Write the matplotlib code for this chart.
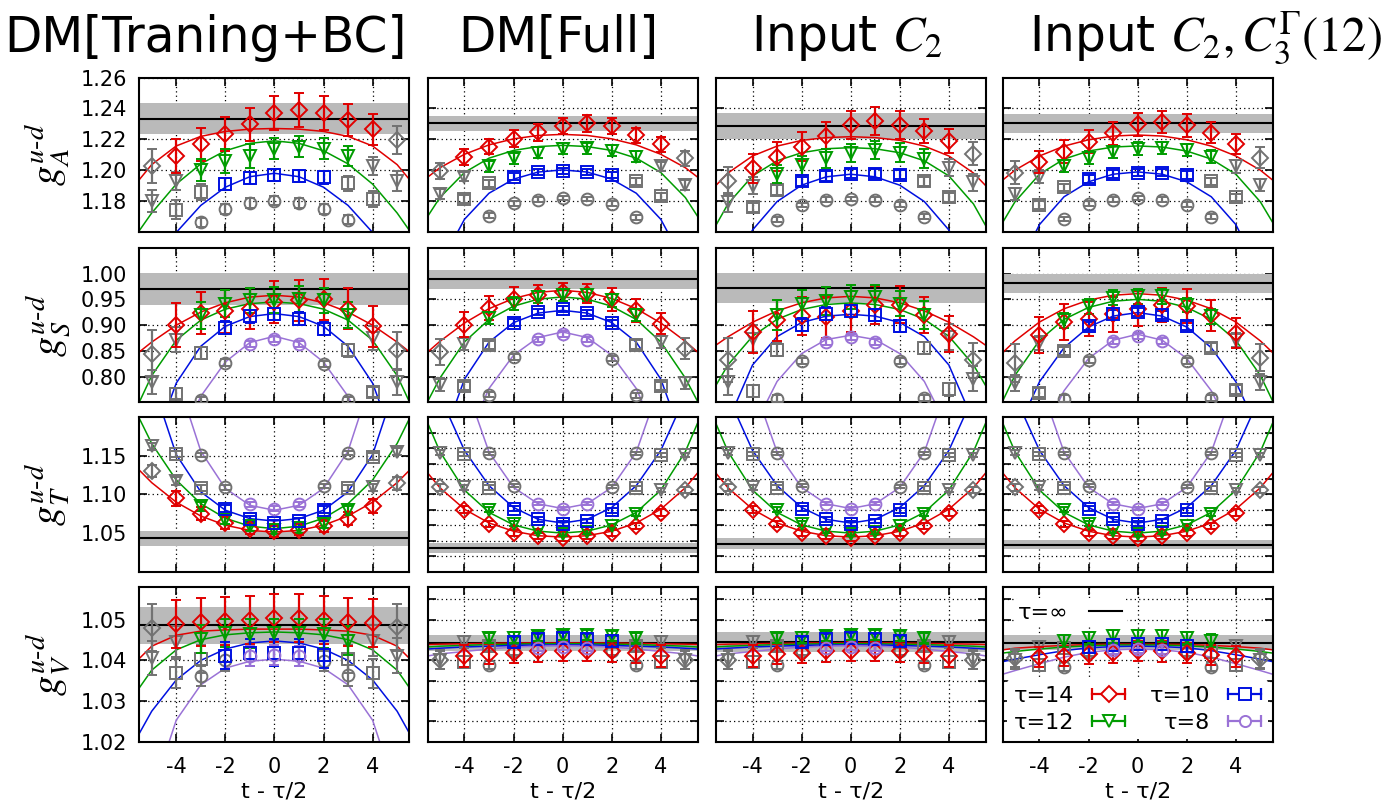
import numpy as np
import matplotlib
matplotlib.use('Agg')
import matplotlib.pyplot as plt
from matplotlib.lines import Line2D
from matplotlib.legend_handler import HandlerBase

plt.rcParams['font.family'] = 'DejaVu Sans'
plt.rcParams['mathtext.fontset'] = 'stix'
plt.rcParams['axes.unicode_minus'] = False

col_titles = ['DM[Traning+BC]', 'DM[Full]', r'Input $C_2$', r'Input $C_2, C_3^{\Gamma}(12)$']
row_labels = [r'$g_A^{u\text{-}d}$', r'$g_S^{u\text{-}d}$', r'$g_T^{u\text{-}d}$', r'$g_V^{u\text{-}d}$']

tau_list = [14, 12, 10, 8]
x_pts = {14: list(range(-5, 6)), 12: list(range(-5, 6)),
         10: list(range(-4, 5)), 8: list(range(-3, 4))}
fit_window = {14: 4, 12: 3, 10: 2, 8: 1}
curve_x_half = [0, 1, 2, 3, 4, 5, 5.5]

# ---------------- g_A ----------------
gA_bc = {14: [1.2024, 1.2092, 1.2168, 1.2232, 1.2297, 1.2368, 1.2389, 1.2368, 1.2325, 1.2265, 1.2194],
         12: [1.1802, 1.1931, 1.2002, 1.2060, 1.2092, 1.2140, 1.2153, 1.2140, 1.2092, 1.2028, 1.1931],
         10: [1.1744, 1.1860, 1.1910, 1.1948, 1.1968, 1.1961, 1.1953, 1.1914, 1.1813],
         8: [1.1662, 1.1748, 1.1787, 1.1802, 1.1787, 1.1748, 1.1679]}
gA_bc_err = {14: [0.011, 0.0108, 0.0108, 0.011, 0.0108, 0.011, 0.011, 0.011, 0.0103, 0.010, 0.009],
             12: [0.007, 0.006, 0.007, 0.008, 0.008, 0.007, 0.007, 0.007, 0.0067, 0.006, 0.0065],
             10: [0.006, 0.005, 0.0037, 0.004, 0.004, 0.004, 0.004, 0.005, 0.005],
             8: [0.003, 0.003, 0.003, 0.003, 0.003, 0.003, 0.003]}
gA_bc_fit = {14: [1.2270, 1.2266, 1.2251, 1.2219, 1.2157, 1.2036, 1.1940],
             12: [1.2190, 1.2174, 1.2126, 1.2041, 1.1910, 1.1723, 1.1610],
             10: [1.1980, 1.1958, 1.1890, 1.1772, 1.1597, 1.1354, 1.1204]}
gA_bc_band = (1.2333, 0.0099)

gA_full = {14: [1.1995, 1.2086, 1.2153, 1.2204, 1.2247, 1.2286, 1.2303, 1.2286, 1.2226, 1.2168, 1.2077],
           12: [1.1845, 1.1959, 1.2024, 1.2077, 1.2114, 1.2140, 1.2142, 1.2125, 1.2088, 1.2024, 1.1905],
           10: [1.1813, 1.1914, 1.1959, 1.1989, 1.1995, 1.1989, 1.1970, 1.1927, 1.1830],
           8: [1.1705, 1.1785, 1.1809, 1.1819, 1.1813, 1.1783, 1.1695]}
gA_full_err = {14: [0.0054, 0.0054, 0.005, 0.0055, 0.0055, 0.0054, 0.0054, 0.0054, 0.005, 0.0048, 0.005],
               12: [0.0032, 0.003, 0.0035, 0.0035, 0.0035, 0.0035, 0.0035, 0.0035, 0.0035, 0.003, 0.003],
               10: [0.0025, 0.0025, 0.002, 0.002, 0.002, 0.002, 0.002, 0.0025, 0.0025],
               8: [0.0015, 0.0015, 0.0015, 0.0015, 0.0015, 0.0015, 0.0015]}
gA_full_fit = {14: [1.2232, 1.2225, 1.2203, 1.2164, 1.2103, 1.2016, 1.1955],
               12: [1.2161, 1.2153, 1.2128, 1.2078, 1.1985, 1.1823, 1.1701],
               10: [1.2002, 1.1988, 1.1942, 1.1851, 1.1682, 1.1387, 1.1166]}
gA_full_band = (1.2303, 0.0050)

gA_c2 = {14: [1.1931, 1.2011, 1.2086, 1.2153, 1.2222, 1.2292, 1.2318, 1.2292, 1.2254, 1.2189, 1.2108],
         12: [1.1792, 1.1899, 1.1974, 1.2032, 1.2077, 1.2110, 1.2131, 1.2114, 1.2075, 1.2017, 1.1921],
         10: [1.1759, 1.1871, 1.1927, 1.1963, 1.1978, 1.1978, 1.1970, 1.1927, 1.1824],
         8: [1.1679, 1.1774, 1.1809, 1.1813, 1.1809, 1.1777, 1.1699]}
gA_c2_err = {14: [0.009, 0.0094, 0.0094, 0.0094, 0.0088, 0.0091, 0.009, 0.009, 0.008, 0.0075, 0.0073],
             12: [0.006, 0.0055, 0.006, 0.006, 0.006, 0.006, 0.006, 0.006, 0.006, 0.0055, 0.0055],
             10: [0.003, 0.003, 0.003, 0.003, 0.003, 0.003, 0.003, 0.003, 0.003],
             8: [0.0015, 0.0015, 0.0015, 0.0015, 0.0015, 0.0015, 0.0015]}
gA_c2_fit = {14: [1.2217, 1.2211, 1.2193, 1.2156, 1.2092, 1.1982, 1.1900],
             12: [1.2146, 1.2139, 1.2113, 1.2061, 1.1963, 1.1782, 1.1641],
             10: [1.1974, 1.1957, 1.1903, 1.1797, 1.1613, 1.1304, 1.1077]}
gA_c2_band = (1.2286, 0.0084)

gA_c3 = {14: [1.1985, 1.2054, 1.2120, 1.2185, 1.2239, 1.2297, 1.2312, 1.2290, 1.2243, 1.2168, 1.2082],
         12: [1.1845, 1.1959, 1.2028, 1.2082, 1.2118, 1.2140, 1.2142, 1.2129, 1.2088, 1.2024, 1.1905],
         10: [1.1776, 1.1888, 1.1942, 1.1974, 1.1985, 1.1985, 1.1970, 1.1927, 1.1824],
         8: [1.1685, 1.1783, 1.1809, 1.1819, 1.1809, 1.1777, 1.1699]}
gA_c3_err = {14: [0.0075, 0.007, 0.0073, 0.0072, 0.0075, 0.0073, 0.007, 0.0072, 0.0069, 0.0065, 0.0065],
             12: [0.004, 0.004, 0.004, 0.004, 0.004, 0.004, 0.004, 0.004, 0.004, 0.004, 0.004],
             10: [0.0025, 0.0025, 0.0025, 0.0025, 0.0025, 0.0025, 0.0025, 0.0025, 0.0025],
             8: [0.0015, 0.0015, 0.0015, 0.0015, 0.0015, 0.0015, 0.0015]}
gA_c3_fit = {14: [1.2228, 1.2221, 1.2197, 1.2156, 1.2092, 1.2000, 1.1936],
             12: [1.2157, 1.2150, 1.2124, 1.2072, 1.1974, 1.1795, 1.1662],
             10: [1.1989, 1.1974, 1.1925, 1.1828, 1.1648, 1.1332, 1.1100]}
gA_c3_band = (1.2303, 0.0062)

# ---------------- g_S ----------------
gS_bc = {14: [0.8447, 0.8996, 0.9235, 0.9268, 0.9320, 0.9450, 0.9480, 0.9500, 0.9320, 0.8977, 0.8510],
         12: [0.7895, 0.8718, 0.9190, 0.9417, 0.9480, 0.9485, 0.9500, 0.9480, 0.9190, 0.8750, 0.7890],
         10: [0.7670, 0.8460, 0.8951, 0.9170, 0.9210, 0.9126, 0.8932, 0.8510, 0.7700],
         8: [0.7540, 0.8272, 0.8640, 0.8724, 0.8635, 0.8252, 0.7550]}
gS_bc_err = {14: [0.045, 0.043, 0.04, 0.042, 0.04, 0.04, 0.04, 0.04, 0.04, 0.04, 0.036],
             12: [0.024, 0.025, 0.026, 0.026, 0.025, 0.025, 0.025, 0.025, 0.025, 0.024, 0.024],
             10: [0.01, 0.012, 0.012, 0.012, 0.012, 0.012, 0.012, 0.012, 0.01],
             8: [0.006, 0.006, 0.006, 0.006, 0.006, 0.006, 0.006]}
gS_bc_fit = {14: [0.9580, 0.9544, 0.9434, 0.9253, 0.8998, 0.8670, 0.8480],
             12: [0.9449, 0.9417, 0.9310, 0.9097, 0.8705, 0.8019, 0.7509],
             10: [0.9223, 0.9166, 0.8977, 0.8589, 0.7873, 0.6570, 0.5500],
             8: [0.8783, 0.8661, 0.8283, 0.7616, 0.6600, 0.5140, 0.4500]}
gS_bc_band = (0.9695, 0.031)

gS_full = {14: [0.8478, 0.9010, 0.9333, 0.9514, 0.9580, 0.9643, 0.9610, 0.9500, 0.9287, 0.9030, 0.8543],
           12: [0.7845, 0.8627, 0.9138, 0.9417, 0.9547, 0.9580, 0.9580, 0.9480, 0.9190, 0.8673, 0.7880],
           10: [0.7818, 0.8608, 0.9049, 0.9254, 0.9306, 0.9241, 0.9043, 0.8621, 0.7818],
           8: [0.7650, 0.8380, 0.8724, 0.8827, 0.8718, 0.8350, 0.7640]}
gS_full_err = {14: [0.025, 0.024, 0.023, 0.022, 0.02, 0.018, 0.018, 0.022, 0.022, 0.021, 0.021],
               12: [0.012, 0.012, 0.012, 0.012, 0.012, 0.012, 0.012, 0.012, 0.012, 0.012, 0.012],
               10: [0.008, 0.008, 0.006, 0.006, 0.006, 0.006, 0.006, 0.008, 0.008],
               8: [0.005, 0.005, 0.005, 0.005, 0.005, 0.005, 0.005]}
gS_full_fit = {14: [0.9676, 0.9636, 0.9517, 0.9319, 0.9041, 0.8684, 0.8476],
               12: [0.9547, 0.9504, 0.9367, 0.9109, 0.8673, 0.7971, 0.7517],
               10: [0.9287, 0.9233, 0.9049, 0.8669, 0.7950, 0.6630, 0.5500],
               8: [0.8866, 0.8759, 0.8416, 0.7769, 0.6676, 0.4900, 0.4000]}
gS_full_band = (0.989, 0.018)

gS_c2 = {14: [0.8317, 0.8866, 0.9093, 0.9180, 0.9150, 0.9268, 0.9398, 0.9398, 0.9190, 0.8835, 0.8320],
         12: [0.7896, 0.8738, 0.9190, 0.9417, 0.9462, 0.9546, 0.9546, 0.9417, 0.9190, 0.8770, 0.7961],
         10: [0.7715, 0.8524, 0.9010, 0.9223, 0.9268, 0.9190, 0.8983, 0.8556, 0.7750],
         8: [0.7573, 0.8303, 0.8673, 0.8770, 0.8673, 0.8297, 0.7580]}
gS_c2_err = {14: [0.043, 0.041, 0.04, 0.037, 0.04, 0.04, 0.037, 0.036, 0.035, 0.035, 0.034],
             12: [0.026, 0.026, 0.029, 0.027, 0.027, 0.023, 0.023, 0.025, 0.027, 0.026, 0.025],
             10: [0.012, 0.012, 0.012, 0.012, 0.012, 0.012, 0.012, 0.012, 0.012],
             8: [0.006, 0.006, 0.006, 0.006, 0.006, 0.006, 0.006]}
gS_c2_fit = {14: [0.9559, 0.9528, 0.9433, 0.9276, 0.9056, 0.8773, 0.8608],
             12: [0.9430, 0.9400, 0.9303, 0.9113, 0.8783, 0.8228, 0.7823],
             10: [0.9210, 0.9174, 0.9050, 0.8777, 0.8225, 0.7130, 0.6000],
             8: [0.8802, 0.8719, 0.8447, 0.7906, 0.6960, 0.5500, 0.4500]}
gS_c2_band = (0.972, 0.029)

gS_c3 = {14: [0.8264, 0.8815, 0.9060, 0.9126, 0.9210, 0.9320, 0.9385, 0.9365, 0.9190, 0.8847, 0.8369],
         12: [0.7876, 0.8653, 0.9093, 0.9365, 0.9534, 0.9559, 0.9559, 0.9385, 0.9170, 0.8705, 0.7890],
         10: [0.7690, 0.8497, 0.8983, 0.9210, 0.9255, 0.9203, 0.8990, 0.8563, 0.7747],
         8: [0.7573, 0.8317, 0.8685, 0.8783, 0.8685, 0.8310, 0.7590]}
gS_c3_err = {14: [0.037, 0.035, 0.034, 0.033, 0.034, 0.034, 0.033, 0.033, 0.03, 0.03, 0.027],
             12: [0.016, 0.014, 0.014, 0.014, 0.014, 0.014, 0.014, 0.014, 0.014, 0.014, 0.016],
             10: [0.008, 0.008, 0.008, 0.008, 0.008, 0.008, 0.008, 0.008, 0.008],
             8: [0.006, 0.006, 0.006, 0.006, 0.006, 0.006, 0.006]}
gS_c3_fit = {14: [0.9611, 0.9580, 0.9485, 0.9317, 0.9060, 0.8693, 0.8466],
             12: [0.9500, 0.9463, 0.9344, 0.9111, 0.8705, 0.8023, 0.7525],
             10: [0.9243, 0.9175, 0.8963, 0.8560, 0.7900, 0.6860, 0.6000],
             8: [0.8822, 0.8707, 0.8352, 0.7725, 0.6767, 0.5500, 0.4500]}
gS_c3_band = (0.981, 0.019)

# ---------------- g_T ----------------
gT_bc = {14: [1.1304, 1.0948, 1.0753, 1.0630, 1.0557, 1.0522, 1.0544, 1.0587, 1.0687, 1.0848, 1.1144],
         12: [1.1622, 1.1178, 1.0848, 1.0674, 1.0587, 1.0544, 1.0565, 1.0622, 1.0796, 1.1091, 1.1556],
         10: [1.1522, 1.1079, 1.0818, 1.0678, 1.0630, 1.0656, 1.0805, 1.1079, 1.1491],
         8: [1.1513, 1.1091, 1.0874, 1.0818, 1.0874, 1.1109, 1.1535]}
gT_bc_err = {14: [0.008, 0.01, 0.009, 0.0077, 0.007, 0.007, 0.007, 0.007, 0.008, 0.009, 0.008],
             12: [0.005, 0.005, 0.006, 0.006, 0.006, 0.006, 0.006, 0.006, 0.006, 0.005, 0.005],
             10: [0.004, 0.004, 0.004, 0.004, 0.004, 0.004, 0.004, 0.004, 0.004],
             8: [0.003, 0.003, 0.003, 0.003, 0.003, 0.003, 0.003]}
gT_bc_fit = {14: [1.0513, 1.0535, 1.0602, 1.0721, 1.0900, 1.1153, 1.1313],
             12: [1.0557, 1.0589, 1.0692, 1.0881, 1.1187, 1.1660, 1.1982],
             10: [1.0656, 1.0687, 1.0796, 1.1034, 1.1516, 1.2476, 1.3000],
             8: [1.0796, 1.0859, 1.1079, 1.1561, 1.2536, 1.4000, 1.5000]}
gT_bc_band = (1.0430, 0.0095)

gT_full = {14: [1.1091, 1.0805, 1.0622, 1.0505, 1.0457, 1.0435, 1.0457, 1.0505, 1.0591, 1.0766, 1.1057],
           12: [1.1543, 1.1091, 1.0805, 1.0622, 1.0526, 1.0492, 1.0513, 1.0591, 1.0753, 1.1057, 1.1513],
           10: [1.1526, 1.1087, 1.0818, 1.0678, 1.0622, 1.0656, 1.0796, 1.1079, 1.1513],
           8: [1.1535, 1.1113, 1.0883, 1.0818, 1.0883, 1.1100, 1.1535]}
gT_full_err = {14: [0.004, 0.004, 0.004, 0.004, 0.004, 0.004, 0.004, 0.004, 0.004, 0.004, 0.004],
               12: [0.003, 0.003, 0.003, 0.003, 0.003, 0.003, 0.003, 0.003, 0.003, 0.003, 0.003],
               10: [0.003, 0.003, 0.003, 0.003, 0.003, 0.003, 0.003, 0.003, 0.003],
               8: [0.002, 0.002, 0.002, 0.002, 0.002, 0.002, 0.002]}
gT_full_fit = {14: [1.0448, 1.0466, 1.0524, 1.0631, 1.0809, 1.1087, 1.1279],
               12: [1.0500, 1.0525, 1.0606, 1.0768, 1.1057, 1.1555, 1.1925],
               10: [1.0630, 1.0678, 1.0831, 1.1114, 1.1570, 1.2276, 1.2800],
               8: [1.0818, 1.0879, 1.1091, 1.1548, 1.2458, 1.4000, 1.5000]}
gT_full_band = (1.0304, 0.0065)

gT_c2 = {14: [1.1091, 1.0805, 1.0622, 1.0505, 1.0457, 1.0435, 1.0457, 1.0505, 1.0591, 1.0766, 1.1057],
         12: [1.1543, 1.1091, 1.0805, 1.0622, 1.0526, 1.0492, 1.0513, 1.0591, 1.0753, 1.1057, 1.1513],
         10: [1.1526, 1.1087, 1.0818, 1.0678, 1.0622, 1.0656, 1.0796, 1.1079, 1.1513],
         8: [1.1535, 1.1113, 1.0883, 1.0818, 1.0883, 1.1100, 1.1535]}
gT_c2_err = gT_full_err
gT_c2_fit = {14: [1.0448, 1.0466, 1.0524, 1.0631, 1.0809, 1.1087, 1.1279],
             12: [1.0500, 1.0525, 1.0606, 1.0768, 1.1057, 1.1555, 1.1925],
             10: [1.0630, 1.0678, 1.0831, 1.1114, 1.1570, 1.2276, 1.2800],
             8: [1.0818, 1.0879, 1.1091, 1.1548, 1.2458, 1.4000, 1.5000]}
gT_c2_band = (1.0365, 0.0065)

gT_c3 = {14: [1.1091, 1.0805, 1.0622, 1.0505, 1.0457, 1.0435, 1.0457, 1.0505, 1.0591, 1.0766, 1.1057],
         12: [1.1543, 1.1091, 1.0805, 1.0622, 1.0526, 1.0492, 1.0513, 1.0591, 1.0753, 1.1057, 1.1513],
         10: [1.1526, 1.1087, 1.0818, 1.0678, 1.0622, 1.0656, 1.0796, 1.1079, 1.1513],
         8: [1.1535, 1.1113, 1.0883, 1.0818, 1.0883, 1.1100, 1.1535]}
gT_c3_err = gT_full_err
gT_c3_fit = {14: [1.0448, 1.0466, 1.0524, 1.0631, 1.0809, 1.1087, 1.1279],
             12: [1.0500, 1.0525, 1.0606, 1.0768, 1.1057, 1.1555, 1.1925],
             10: [1.0630, 1.0678, 1.0831, 1.1114, 1.1570, 1.2276, 1.2800],
             8: [1.0818, 1.0879, 1.1091, 1.1548, 1.2458, 1.4000, 1.5000]}
gT_c3_band = (1.0350, 0.0055)

# ---------------- g_V ----------------
gV_bc = {14: [1.0480, 1.0490, 1.0494, 1.0498, 1.0500, 1.0504, 1.0504, 1.0500, 1.0495, 1.0491, 1.0482],
         12: [1.0405, 1.0446, 1.0453, 1.0467, 1.0466, 1.0467, 1.0467, 1.0466, 1.0449, 1.0449, 1.0412],
         10: [1.0368, 1.0403, 1.0412, 1.0419, 1.0419, 1.0419, 1.0414, 1.0403, 1.0368],
         8: [1.0362, 1.0400, 1.0411, 1.0414, 1.0411, 1.0399, 1.0363]}
gV_bc_err = {14: [0.0058, 0.0059, 0.0059, 0.0059, 0.0059, 0.0059, 0.0059, 0.0059, 0.0059, 0.0059, 0.0058],
             12: [0.0042, 0.0038, 0.0035, 0.0035, 0.0035, 0.0035, 0.0035, 0.0035, 0.0035, 0.0038, 0.0042],
             10: [0.0035, 0.0035, 0.0033, 0.0033, 0.0033, 0.0033, 0.0033, 0.0035, 0.0035],
             8: [0.0025, 0.0025, 0.0025, 0.0025, 0.0025, 0.0025, 0.0025]}
gV_bc_fit = {14: [1.0477, 1.0477, 1.0475, 1.0472, 1.0462, 1.0435, 1.0405],
             12: [1.0470, 1.0468, 1.0463, 1.0451, 1.0426, 1.0376, 1.0333],
             10: [1.0448, 1.0443, 1.0428, 1.0400, 1.0352, 1.0275, 1.0221],
             8: [1.0403, 1.0398, 1.0381, 1.0340, 1.0253, 1.0070, 1.0000]}
gV_bc_band = (1.0486, 0.0045)

gV_full = {14: [1.0401, 1.0411, 1.0416, 1.0419, 1.0422, 1.0424, 1.0424, 1.0422, 1.0418, 1.0411, 1.0401],
           12: [1.0402, 1.0446, 1.0455, 1.0456, 1.0460, 1.0463, 1.0463, 1.0460, 1.0455, 1.0446, 1.0402],
           10: [1.0397, 1.0436, 1.0446, 1.0452, 1.0455, 1.0452, 1.0448, 1.0436, 1.0397],
           8: [1.0389, 1.0422, 1.0430, 1.0433, 1.0430, 1.0422, 1.0389]}
gV_full_err = {14: [0.0023, 0.0027, 0.0025, 0.0025, 0.0025, 0.0025, 0.0025, 0.0025, 0.0025, 0.0027, 0.0023],
               12: [0.0023, 0.0015, 0.0013, 0.0013, 0.0013, 0.0013, 0.0013, 0.0013, 0.0013, 0.0015, 0.0023],
               10: [0.0015, 0.0013, 0.0012, 0.0012, 0.0012, 0.0012, 0.0012, 0.0013, 0.0015],
               8: [0.001, 0.0009, 0.0008, 0.0008, 0.0008, 0.0009, 0.001]}
gV_full_fit = {14: [1.0443, 1.0443, 1.0443, 1.0442, 1.0441, 1.0440, 1.0439],
               12: [1.0441, 1.0441, 1.0440, 1.0439, 1.0437, 1.0435, 1.0433],
               10: [1.0438, 1.0438, 1.0437, 1.0435, 1.0433, 1.0430, 1.0428],
               8: [1.0436, 1.0435, 1.0433, 1.0428, 1.0422, 1.0416, 1.0411]}
gV_full_band = (1.0443, 0.0020)

gV_c2 = {14: [1.0401, 1.0411, 1.0416, 1.0419, 1.0422, 1.0424, 1.0424, 1.0422, 1.0418, 1.0411, 1.0401],
         12: [1.0402, 1.0446, 1.0455, 1.0456, 1.0460, 1.0463, 1.0463, 1.0460, 1.0455, 1.0446, 1.0402],
         10: [1.0397, 1.0436, 1.0446, 1.0452, 1.0455, 1.0452, 1.0448, 1.0436, 1.0397],
         8: [1.0389, 1.0422, 1.0430, 1.0433, 1.0430, 1.0422, 1.0389]}
gV_c2_err = gV_full_err
gV_c2_fit = {14: [1.0443, 1.0443, 1.0443, 1.0442, 1.0441, 1.0440, 1.0439],
             12: [1.0441, 1.0441, 1.0440, 1.0439, 1.0437, 1.0435, 1.0433],
             10: [1.0438, 1.0438, 1.0437, 1.0435, 1.0433, 1.0430, 1.0428],
             8: [1.0436, 1.0435, 1.0433, 1.0428, 1.0422, 1.0416, 1.0411]}
gV_c2_band = (1.0445, 0.0025)

gV_c3 = {14: [1.0406, 1.0408, 1.0411, 1.0415, 1.0418, 1.0424, 1.0422, 1.0419, 1.0414, 1.0410, 1.0404],
         12: [1.0402, 1.0434, 1.0448, 1.0455, 1.0459, 1.0461, 1.0461, 1.0456, 1.0449, 1.0435, 1.0402],
         10: [1.0389, 1.0430, 1.0434, 1.0438, 1.0440, 1.0440, 1.0436, 1.0420, 1.0389],
         8: [1.0385, 1.0420, 1.0426, 1.0428, 1.0426, 1.0420, 1.0385]}
gV_c3_err = {14: [0.0023, 0.0025, 0.0025, 0.0025, 0.0025, 0.0025, 0.0025, 0.0025, 0.0025, 0.0025, 0.0023],
             12: [0.0023, 0.0015, 0.0015, 0.0015, 0.0015, 0.0015, 0.0015, 0.0015, 0.0015, 0.0015, 0.0023],
             10: [0.0015, 0.0015, 0.0015, 0.0015, 0.0015, 0.0015, 0.0015, 0.0015, 0.0015],
             8: [0.001, 0.001, 0.001, 0.001, 0.001, 0.001, 0.001]}
gV_c3_fit = {14: [1.0440, 1.0440, 1.0439, 1.0437, 1.0434, 1.0430, 1.0426],
             12: [1.0438, 1.0438, 1.0436, 1.0433, 1.0428, 1.0422, 1.0418],
             10: [1.0435, 1.0434, 1.0431, 1.0424, 1.0414, 1.0403, 1.0397],
             8: [1.0428, 1.0426, 1.0420, 1.0408, 1.0392, 1.0375, 1.0366]}
gV_c3_band = (1.0444, 0.0018)

panels = [
    [(gA_bc, gA_bc_err, gA_bc_fit, gA_bc_band), (gA_full, gA_full_err, gA_full_fit, gA_full_band),
     (gA_c2, gA_c2_err, gA_c2_fit, gA_c2_band), (gA_c3, gA_c3_err, gA_c3_fit, gA_c3_band)],
    [(gS_bc, gS_bc_err, gS_bc_fit, gS_bc_band), (gS_full, gS_full_err, gS_full_fit, gS_full_band),
     (gS_c2, gS_c2_err, gS_c2_fit, gS_c2_band), (gS_c3, gS_c3_err, gS_c3_fit, gS_c3_band)],
    [(gT_bc, gT_bc_err, gT_bc_fit, gT_bc_band), (gT_full, gT_full_err, gT_full_fit, gT_full_band),
     (gT_c2, gT_c2_err, gT_c2_fit, gT_c2_band), (gT_c3, gT_c3_err, gT_c3_fit, gT_c3_band)],
    [(gV_bc, gV_bc_err, gV_bc_fit, gV_bc_band), (gV_full, gV_full_err, gV_full_fit, gV_full_band),
     (gV_c2, gV_c2_err, gV_c2_fit, gV_c2_band), (gV_c3, gV_c3_err, gV_c3_fit, gV_c3_band)],
]

row_ylim = [(1.16, 1.26), (0.75, 1.05), (1.00, 1.20), (1.02, 1.058)]
row_ticks = [[1.18, 1.20, 1.22, 1.24, 1.26], [0.80, 0.85, 0.90, 0.95, 1.00],
             [1.05, 1.10, 1.15], [1.02, 1.03, 1.04, 1.05]]
row_ticks_fine = [[1.18, 1.20, 1.22, 1.24], [0.80, 0.85, 0.90, 0.95, 1.00],
                  [1.02, 1.04, 1.06, 1.08, 1.10, 1.12, 1.14, 1.16, 1.18],
                  [1.025, 1.03, 1.035, 1.04, 1.045, 1.05, 1.055]]
x_ticks = [-4, -2, 0, 2, 4]

colors = {14: '#e00000', 12: '#009c00', 10: '#0010e0', 8: '#9a72d6'}
markers = {14: 'D', 12: 'v', 10: 's', 8: 'o'}
msizes = {14: 8, 12: 9, 10: 8.5, 8: 8.5}
gray = '#727272'
band_gray = '#bababa'


def draw_panel(ax, vals, errs, fits, band):
    m, e = band
    ax.axhspan(m - e, m + e, color=band_gray, lw=0, zorder=1)
    ax.axhline(m, color='k', lw=1.5, zorder=1.5)
    for tau in tau_list:
        xs = np.array(x_pts[tau])
        ys = np.array(vals[tau])
        es = np.array(errs[tau])
        if tau in fits:
            inside = np.abs(xs) <= fit_window[tau]
            half = fits[tau]
            cx = [-v for v in curve_x_half[::-1]] + curve_x_half[1:]
            cy = half[::-1] + half[1:]
            ax.plot(cx, cy, color=colors[tau], lw=1.1, zorder=2)
        else:
            inside = np.zeros(len(xs), dtype=bool)
        for mask, c, z in ((~inside, gray, 3), (inside, colors[tau], 4)):
            if mask.any():
                ax.errorbar(xs[mask], ys[mask], yerr=es[mask], fmt=markers[tau],
                            ms=msizes[tau], mfc='none', mec=c, mew=1.4, ecolor=c,
                            elinewidth=1.6, capsize=3.5, capthick=1.6, zorder=z)


class XErrHandler(HandlerBase):
    def create_artists(self, legend, orig, xd, yd, width, height, fontsize, trans):
        c = orig.get_color()
        y = height / 2 - yd
        x0, x1 = -xd, width - xd
        bar = Line2D([x0, x1], [y, y], color=c, lw=1.6)
        caps = Line2D([x0, x1], [y, y], ls='none', marker='|', ms=9, mew=1.6, color=c)
        mk = Line2D([(x0 + x1) / 2], [y], ls='none', marker=orig.get_marker(), ms=8,
                    mfc='white', mec=c, mew=1.4)
        for a in (bar, caps, mk):
            a.set_transform(trans)
        return [bar, caps, mk]


fig = plt.figure(figsize=(13.93, 8.10), dpi=100)
col_left = [0.1001, 0.3070, 0.5138, 0.7198]
row_bottom = [0.7136, 0.5033, 0.2942, 0.0843]
width, height = 0.1938, 0.1907
title_x = [205, 558, 847, 1205]

for r in range(4):
    for c in range(4):
        ax = fig.add_axes([col_left[c], row_bottom[r], width, height])
        vals, errs, fits, band = panels[r][c]
        draw_panel(ax, vals, errs, fits, band)
        ax.set_xlim(-5.5, 5.5)
        ax.set_ylim(*row_ylim[r])
        ax.set_xticks(x_ticks)
        ax.set_yticks(row_ticks[r] if c == 0 else row_ticks_fine[r])
        ax.set_axisbelow(True)
        ax.grid(True, color='k', ls=(0, (1, 2.5)), lw=0.9, zorder=0)
        ax.tick_params(direction='in', top=True, right=True, length=6, width=1.2,
                       labelsize=15)
        ax.tick_params(axis='y', pad=9)
        ax.tick_params(axis='x', pad=11)
        for sp in ax.spines.values():
            sp.set_linewidth(1.5)
        if c == 0:
            ax.set_yticklabels(['%.2f' % t for t in row_ticks[r]])
            fig.text(0.034, row_bottom[r] + height / 2, row_labels[r], rotation=90,
                     ha='center', va='center', fontsize=29)
        else:
            ax.set_yticklabels([])
        if r == 3:
            ax.set_xlabel('t - τ/2', fontsize=16, labelpad=3)
        else:
            ax.set_xticklabels([])
        if r == 3 and c == 3:
            top = ax.legend([Line2D([], [], color='k', lw=1.5)], ['τ=∞'], loc='upper left',
                            markerfirst=False, fontsize=16, handlelength=1.5,
                            handletextpad=0.9, frameon=True, facecolor='white',
                            edgecolor='none', framealpha=1, borderaxespad=0.5,
                            borderpad=0.2)
            ax.add_artist(top)
            handles = [Line2D([], [], color=colors[t], marker=markers[t]) for t in tau_list]
            ax.legend(handles, ['τ=%d' % t for t in tau_list], ncol=2, loc='lower center',
                      markerfirst=False, fontsize=16, handlelength=1.5, columnspacing=1.1,
                      handletextpad=0.8, labelspacing=0.3,
                      handler_map={Line2D: XErrHandler()}, frameon=True, facecolor='white',
                      edgecolor='none', framealpha=1, borderaxespad=0.1, borderpad=0.3)

for c in range(4):
    fig.text(title_x[c] / 1393, 1 - 38 / 810, col_titles[c], ha='center', va='center',
             fontsize=35)

fig.savefig('out.png', dpi=100)
